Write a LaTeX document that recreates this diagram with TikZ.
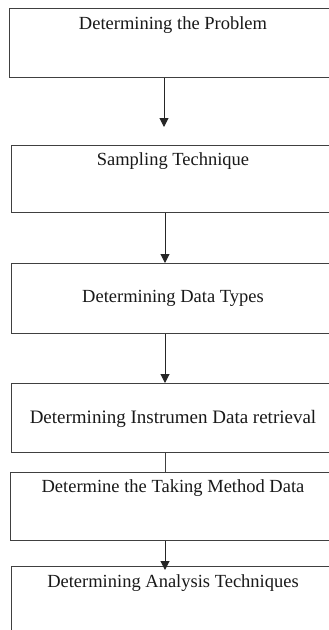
\documentclass[tikz,border=0pt]{standalone}
\usepackage{fontspec}
\setmainfont{Liberation Serif}
\usetikzlibrary{arrows.meta}
\tikzset{
  box/.style={draw=black!75, line width=1pt, rectangle, anchor=north west, inner sep=0pt},
  lbl/.style={inner sep=0pt, anchor=center, text=black!90, font=\fontsize{18.5}{20}\selectfont},
  arr/.style={draw=black!85, line width=1pt, -{Triangle[width=9pt,length=9pt]}},
  ln/.style={draw=black!75, line width=1pt}
}
\begin{document}
\begin{tikzpicture}[x=1pt,y=1pt]
\useasboundingbox (0,0) rectangle (329,-630);
\clip (0,0) rectangle (329,-630);
\fill[white] (0,0) rectangle (329,-630);
% boxes
\node[box, minimum width=331pt, minimum height=69pt] (b1) at (9,-8) {};
\node[box, minimum width=329pt, minimum height=67pt] (b2) at (11,-145) {};
\node[box, minimum width=329pt, minimum height=70pt] (b3) at (11,-263) {};
\node[box, minimum width=329pt, minimum height=69pt] (b4) at (11,-383) {};
\node[box, minimum width=330pt, minimum height=68pt] (b5) at (10,-472) {};
\node[box, minimum width=329pt, minimum height=80pt] (b6) at (11,-566) {};
% labels
\node[lbl] (t1) at (173,-25) {Determining the Problem};
\node[lbl] (t2) at (173,-161) {Sampling Technique};
\node[lbl] (t3) at (173,-298) {Determining Data Types};
\node[lbl, font=\fontsize{19}{21}\selectfont] (t4) at (173,-419) {Determining Instrumen Data retrieval};
\node[lbl] (t5) at (173,-488) {Determine the Taking Method Data};
\node[lbl] (t6) at (173,-583) {Determining Analysis Techniques};
% connectors
\coordinate (x1) at (164,0);
\coordinate (x2) at (165,0);
\coordinate (e1) at (164,-127);
\coordinate (e5) at (165,-570);
\draw[arr] (b1.south -| x1) -- (e1);
\draw[arr] (b2.south -| x2) -- (b3.north -| x2);
\draw[arr] (b3.south -| x2) -- (b4.north -| x2);
\draw[ln] (b4.south -| x2) -- (b5.north -| x2);
\draw[arr] (b5.south -| x2) -- (e5);
\end{tikzpicture}
\end{document}
